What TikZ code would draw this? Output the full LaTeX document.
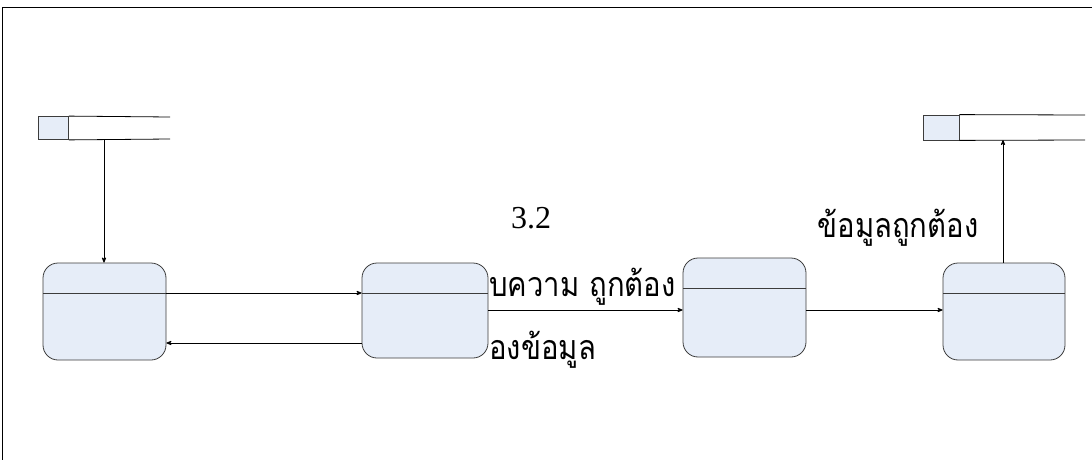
\documentclass[tikz,border=0pt]{standalone}
\usepackage{fontspec}
\setmainfont{Liberation Serif}
\newfontfamily\thaifont[Script=Thai,FakeStretch=0.86]{Loma}
\usepackage{xcolor}
\usetikzlibrary{arrows}
\definecolor{procfill}{RGB}{230,237,248}
\definecolor{edgegray}{RGB}{60,60,60}
\tikzset{
  proc/.style = {draw=edgegray, fill=procfill, rounded corners=15pt,
    minimum width=123pt, minimum height=97pt, inner sep=0pt,
    path picture={\draw[-,edgegray] ([yshift=-30pt]path picture bounding box.north west)
      -- ([yshift=-30pt]path picture bounding box.north east);}},% process
  storeid/.style = {draw=edgegray, fill=procfill, minimum width=30pt,
    minimum height=23pt, inner sep=0pt},% data store, id box
  flowlbl/.style = {font=\thaifont\fontsize{34}{38}\selectfont, inner sep=0pt}
}

\begin{document}
\begin{tikzpicture}[x=1pt,y=-1pt,->,>=stealth',line width=0.8pt]
\useasboundingbox (0,0) rectangle (1092,460);
% frame
\draw[-] (2,460) -- (2,7) -- (1092,7);
% data stores
\node [storeid] (s1) at (53.5,128) {};
\draw[-] (s1.north east) -- (170,117);
\draw[-] (s1.south east) -- (170,139);
\node [storeid, minimum width=36pt, minimum height=25pt] (s2) at (941,127.5) {};
\draw[-] (s2.north east) -- (1085,115);
\draw[-] (s2.south east) -- (1085,140);
% processes
\node [proc] (p1) at (104.5,311.5) {};
\node [proc, minimum width=126pt, minimum height=95pt] (p2) at (425,310.5) {};
\node [proc, minimum height=99pt] (p3) at (744.5,307.5) {};
\node [proc, minimum width=122pt] (p4) at (1004,311.5) {};
% labels
\node [font=\fontsize{32}{36}\selectfont, inner sep=0pt] (num) at (531,218) {3.2};
\node [flowlbl, anchor=west] (l1) at (489,287) {บความ ถูกต้อง};
\node [flowlbl, anchor=west] (l2) at (489,350) {องข้อมูล};
\node [flowlbl] (l3) at (898,228) {ข้อมูลถูกต้อง};
% flows
\coordinate (s1out) at (104,139);
\draw (s1out) -- (p1.north -| s1out);
\draw (p1.east |- 0,293) -- (p2.west |- 0,293);
\draw (p2.west |- 0,343) -- (p1.east |- 0,343);
\draw (p2.east |- 0,310) -- (p3.west |- 0,310);
\draw (p3.east |- 0,310) -- (p4.west |- 0,310);
\coordinate (s2in) at (1003,140);
\draw (p4.north -| s2in) -- (s2in);
\end{tikzpicture}
\end{document}
